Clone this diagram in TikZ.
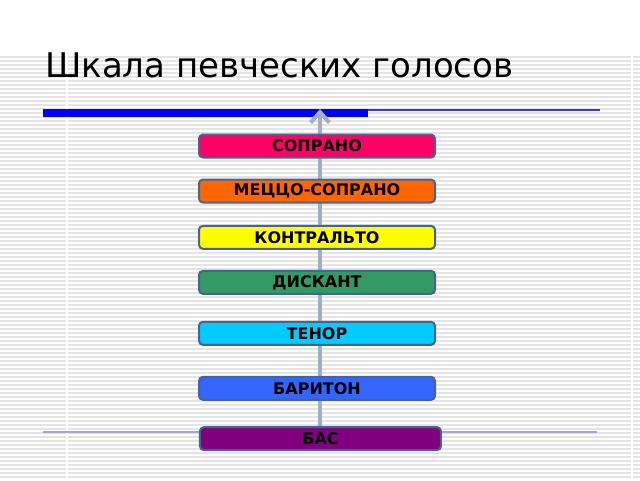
\documentclass[tikz,border=0pt]{standalone}
\usepackage{fontspec}
\setmainfont{DejaVu Sans}
\usetikzlibrary{positioning}
\usetikzlibrary{arrows.meta}

\definecolor{stripe}{RGB}{228,228,228}
\definecolor{boxline}{RGB}{70,100,140}
\definecolor{axisgray}{RGB}{160,175,195}
\definecolor{barblue}{RGB}{0,0,255}
\definecolor{thinblue}{RGB}{50,50,255}
\definecolor{lowline}{RGB}{160,160,240}
\definecolor{sopc}{RGB}{255,0,102}
\definecolor{mezc}{RGB}{255,102,0}
\definecolor{conc}{RGB}{255,255,0}
\definecolor{disc}{RGB}{51,153,102}
\definecolor{tenc}{RGB}{0,204,255}
\definecolor{barc}{RGB}{51,102,255}
\definecolor{basc}{RGB}{128,0,128}

\begin{document}
\begin{tikzpicture}[x=0.75pt,y=-0.75pt,
	voice/.style={draw=boxline,line width=1.5pt,rounded corners=3pt,
		minimum width=177pt,minimum height=17.25pt,inner sep=0pt,
		font=\bfseries\fontsize{12}{14}\selectfont},
	axis/.style={draw=axisgray,line width=3pt,-{Straight Barb[length=8pt,width=14pt]}}]
	\useasboundingbox (0,0) rectangle (640,480);
	% background
	\foreach \y in {57,61,...,479}
		\draw[stripe,line width=1.2pt] (0,\y) -- (640,\y);
	\draw[white,line width=1.5pt] (67,56) -- (67,480);
	\draw[white,line width=1.5pt] (632,56) -- (632,480);
	% title and rules
	\node[anchor=base west,inner sep=0pt,font=\fontsize{25.5}{30}\selectfont] (title) at (45,77.5) {Шкала певческих голосов};
	\fill[barblue] (43,109) rectangle (368,117);
	\fill[thinblue] (368,109) rectangle (600,111);
	\draw[lowline,line width=1.2pt] (43,432) -- (597,432);
	% axis
	\coordinate (foot) at (320,440);
	\coordinate (top) at (320,109);
	\draw[axis] (foot) -- (top);
	% voices
	\node[voice,fill=sopc] (sop) at (317,146) {СОПРАНО};
	\node[voice,fill=mezc,below=15pt of sop] (mez) {МЕЦЦО-СОПРАНО};
	\node[voice,fill=conc,below=16pt of mez] (con) {КОНТРАЛЬТО};
	\node[voice,fill=disc,below=15pt of con] (dis) {ДИСКАНТ};
	\node[voice,fill=tenc,below=19.5pt of dis] (ten) {ТЕНОР};
	\node[voice,fill=barc,below=22.5pt of ten] (bar) {БАРИТОН};
	\node[voice,fill=basc,minimum width=180.75pt,below=19pt of bar,xshift=2.6pt] (bas) {БАС};
\end{tikzpicture}
\end{document}
